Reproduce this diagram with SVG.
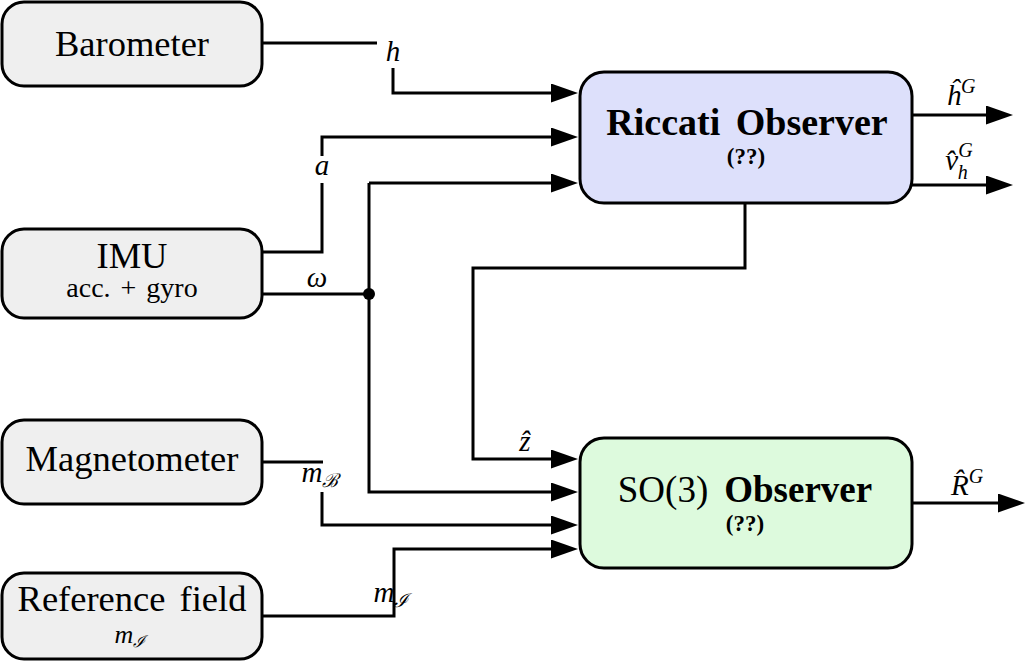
<svg xmlns="http://www.w3.org/2000/svg" width="1027" height="662" viewBox="0 0 1027 662">
<style>
.box{stroke:#000;stroke-width:3}
.sensor{fill:#efefef}
.ric{fill:#dde0fb}
.so3{fill:#ddfadd}
text{font-family:'Liberation Serif','Times New Roman',Times,'DejaVu Serif',serif;fill:#000;text-anchor:middle}
.lbl{font-size:36.5px}
.sub{font-size:28px;word-spacing:3px}
.ref{font-size:23px;font-weight:bold}
.math{font-style:italic;font-size:29px}
.scr{font-family:'DejaVu Serif',serif;font-style:italic;font-size:19px}
.sup{font-size:20px}
.wire{fill:none;stroke:#000;stroke-width:3}
</style>
<defs>
<marker id="arr" markerUnits="userSpaceOnUse" markerWidth="27" markerHeight="19" refX="17" refY="9.5" orient="auto">
<path d="M0,0 L27,9.5 L0,19 Z" fill="#000"/>
</marker>
</defs>

<g id="connectors">
<path class="wire" d="M262,43 H377"/>
<path class="wire" d="M393,68 V93 H568" marker-end="url(#arr)"/>
<path class="wire" d="M262,252 H322 V183"/>
<path class="wire" d="M322,156 V137 H568" marker-end="url(#arr)"/>
<path class="wire" d="M262,294 H369"/>
<path class="wire" d="M369,183 H568" marker-end="url(#arr)"/>
<path class="wire" d="M369,183 V492 H568" marker-end="url(#arr)"/>
<circle cx="369" cy="294" r="6" fill="#000"/>
<path class="wire" d="M745,203 V268 H473 V459 H568" marker-end="url(#arr)"/>
<path class="wire" d="M262,462 H323"/>
<path class="wire" d="M322,492 V525 H568" marker-end="url(#arr)"/>
<path class="wire" d="M262,616 H394 V583"/>
<path class="wire" d="M394,583 V549 H568" marker-end="url(#arr)"/>
<path class="wire" d="M912,115 H1003" marker-end="url(#arr)"/>
<path class="wire" d="M912,185 H1003" marker-end="url(#arr)"/>
<path class="wire" d="M912,503 H1015" marker-end="url(#arr)"/>
<text class="math" x="393" y="61">h</text>
<text class="math" x="322" y="175">a</text>
<text class="math" x="317" y="287">ω</text>
<text class="math" x="525" y="451">ẑ</text>
<text class="math" x="320" y="482">m<tspan class="scr" dy="5">ℬ</tspan></text>
<text class="math" x="391" y="602">m<tspan class="scr" dy="5">ℐ</tspan></text>
<text class="math" x="961" y="105">ĥ<tspan class="sup" dy="-12">G</tspan></text>
<text class="math" x="959" y="170">v̂<tspan class="sup" dy="-13">G</tspan><tspan class="sup" dx="-15" dy="22">h</tspan></text>
<text class="math" x="967" y="495">R̂<tspan class="sup" dy="-12">G</tspan></text>
</g>

<g id="barometer">
<rect class="box sensor" x="2" y="2" width="260" height="84" rx="22"/>
<text class="lbl" x="132" y="56">Barometer</text>
</g>
<g id="imu">
<rect class="box sensor" x="2" y="229" width="260" height="89" rx="22"/>
<text class="lbl" x="132" y="268">IMU</text>
<text class="sub" x="132" y="297">acc. + gyro</text>
</g>
<g id="magnetometer">
<rect class="box sensor" x="2" y="420" width="260" height="84" rx="22"/>
<text class="lbl" x="132" y="471">Magnetometer</text>
</g>
<g id="reference">
<rect class="box sensor" x="2" y="573" width="260" height="86" rx="22"/>
<text class="lbl" x="132" y="611" style="word-spacing:5px">Reference field</text>
<text class="math" x="130" y="643" style="font-size:26px">m<tspan class="scr" dy="4" style="font-size:16px">ℐ</tspan></text>
</g>
<g id="riccati">
<rect class="box ric" x="580" y="72" width="332" height="131" rx="24"/>
<text class="lbl" x="747" y="135" style="font-weight:bold;font-size:38px;word-spacing:6px">Riccati Observer</text>
<text class="ref" x="746" y="164">(??)</text>
</g>
<g id="so3">
<rect class="box so3" x="580" y="438" width="332" height="130" rx="24"/>
<text class="lbl" x="745" y="502" style="font-size:37px">SO(3)<tspan font-weight="bold" dx="16">Observer</tspan></text>
<text class="ref" x="745" y="531">(??)</text>
</g>
</svg>
